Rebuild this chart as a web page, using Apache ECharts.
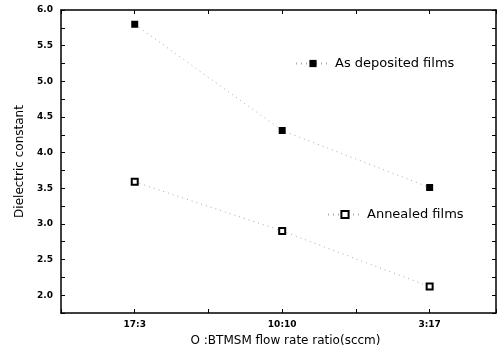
<!DOCTYPE html>
<html><head><meta charset="utf-8">
<script src="https://cdn.jsdelivr.net/npm/echarts@6/dist/echarts.min.js"></script>
<style>html,body{margin:0;padding:0;background:#fff}#c{width:499px;height:357px}</style>
</head><body><div id="c"></div>
<script>
var categories = ['17:3', '10:10', '3:17'];
var xPositions = [1, 2, 3];
var asDeposited = [5.80, 4.31, 3.51];
var annealed = [3.59, 2.90, 2.12];
var seriesNames = ['As deposited films', 'Annealed films'];
var xName = 'O :BTMSM flow rate ratio(sccm)';
var yName = 'Dielectric constant';

function pairs(vals){ return vals.map(function(v,i){ return [xPositions[i], v]; }); }
var FONT = '"DejaVu Sans", Arial, sans-serif';

var chart = echarts.init(document.getElementById('c'));
var tickBase = {inside: true, length: 4, lineStyle: {color: '#000', width: 1}};
var axisLineBase = {show: true, onZero: false, lineStyle: {color: '#000', width: 1.5}};
chart.setOption({
  animation: false,
  backgroundColor: '#fff',
  grid: {left: 61, right: 2, top: 10, bottom: 44, show: false},
  legend: [
    {data: [seriesNames[0]], left: 290, top: 52, itemWidth: 34, itemHeight: 9,
     textStyle: {fontFamily: FONT, fontSize: 13, color: '#000'}},
    {data: [seriesNames[1]], left: 322, top: 203, itemWidth: 34, itemHeight: 9,
     textStyle: {fontFamily: FONT, fontSize: 13, color: '#000'}}
  ],
  xAxis: [{
    type: 'value', min: 0.5, max: 3.45, interval: 0.5,
    name: xName, nameLocation: 'middle', nameGap: 22,
    nameTextStyle: {fontFamily: FONT, fontSize: 12, color: '#000', padding: [0, 0, 0, 14]},
    axisLine: axisLineBase, axisTick: tickBase, splitLine: {show: false},
    axisLabel: {margin: 7, fontFamily: FONT, fontSize: 9, fontWeight: 'bold', color: '#000',
      formatter: function(v){ var i = xPositions.indexOf(v); return i >= 0 ? categories[i] : ''; }}
  }, {
    type: 'value', position: 'top', min: 0.5, max: 3.45, interval: 0.5,
    axisLine: axisLineBase, axisTick: tickBase, axisLabel: {show: false}, splitLine: {show: false}
  }],
  yAxis: [{
    type: 'value', min: 1.75, max: 6.0, interval: 0.25,
    name: yName, nameLocation: 'middle', nameGap: 35,
    nameTextStyle: {fontFamily: FONT, fontSize: 12, color: '#000'},
    axisLine: axisLineBase, axisTick: tickBase, splitLine: {show: false},
    axisLabel: {margin: 8, fontFamily: FONT, fontSize: 9, fontWeight: 'bold', color: '#000',
      formatter: function(v){ return Math.abs(v*2 - Math.round(v*2)) < 1e-6 ? v.toFixed(1) : ''; }}
  }, {
    type: 'value', position: 'right', min: 1.75, max: 6.0, interval: 0.25,
    axisLine: axisLineBase, axisTick: tickBase, axisLabel: {show: false}, splitLine: {show: false}
  }],
  series: [{
    name: seriesNames[0], type: 'line', data: pairs(asDeposited),
    symbol: 'rect', symbolSize: 7,
    itemStyle: {color: '#000'},
    lineStyle: {color: '#aaa', width: 1, type: [1, 4]}
  }, {
    name: seriesNames[1], type: 'line', data: pairs(annealed),
    symbol: 'emptyRect', symbolSize: 6,
    itemStyle: {color: '#000', borderWidth: 1},
    lineStyle: {color: '#aaa', width: 1, type: [1, 4]}
  }]
});
</script></body></html>
